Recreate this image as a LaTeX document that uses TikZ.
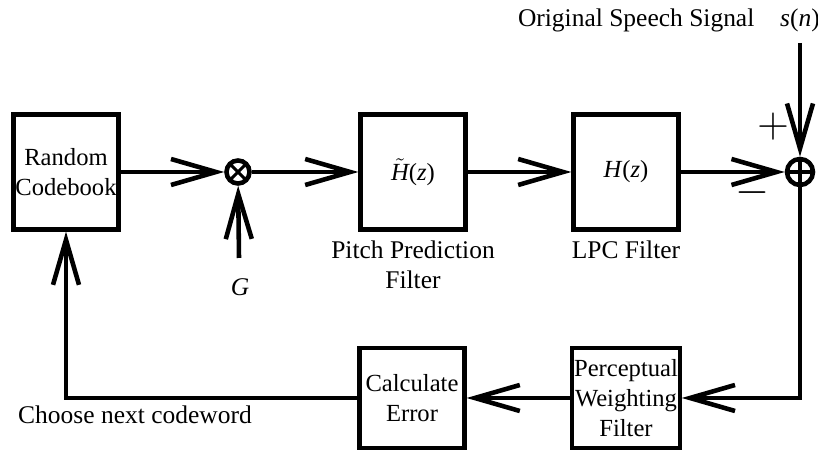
\documentclass[tikz,border=0pt]{standalone}
\usepackage{fontspec}
\setmainfont{Liberation Serif}
\usetikzlibrary{arrows.meta, positioning}

\begin{document}
\begin{tikzpicture}[
		>={Straight Barb[length=0.9cm, width=0.52cm]},
		line width=2.6pt,
		box/.style={draw, line width=2.4pt, minimum width=2.1cm, minimum height=2.3cm,
			align=center, inner sep=1pt, font=\fontsize{14}{17}\selectfont},
		lbl/.style={align=center, font=\fontsize{14.5}{17}\selectfont},
		sgn/.style={font=\fontsize{24}{24}\selectfont, inner sep=0pt},
		mult/.style={circle, draw, minimum size=0.46cm, inner sep=0pt,
			path picture={\draw[line width=1.8pt]
				(path picture bounding box.north west) -- (path picture bounding box.south east)
				(path picture bounding box.north east) -- (path picture bounding box.south west);}},
		summ/.style={circle, draw, minimum size=0.52cm, inner sep=0pt,
			path picture={\draw[line width=1.8pt]
				(path picture bounding box.north) -- (path picture bounding box.south)
				(path picture bounding box.west) -- (path picture bounding box.east);}}
	]
	\useasboundingbox (0,0) rectangle (16.36,9.16);
	
	% Top row
	\node[box] (cb) at (1.32,5.72) {Random\\Codebook};
	\node[mult] (mu) at (4.76,5.72) {};
	\node[box] (pp) at (8.26,5.72) {$\tilde{\textit{H}}$(\textit{z})};
	\node[box] (lpc) at (12.52,5.72) {\textit{H}(\textit{z})};
	\node[summ] (sum) at (16.0,5.72) {};
	
	\coordinate (gin) at (4.78,4.0);
	\coordinate (sin) at (16.0,8.3);
	
	\node[lbl] (gl) at (4.8,3.42) {\textit{G}};
	\node[lbl] (ppl) at (8.26,3.86) {Pitch Prediction\\Filter};
	\node[lbl] (lpcl) at (12.52,4.16) {LPC Filter};
	\node[lbl, anchor=east] (osl) at (15.25,8.76) {Original Speech Signal};
	\node[lbl] (snl) at (16.0,8.76) {\textit{s}(\textit{n})};
	\node[sgn] (plus) at (15.46,6.62) {$+$};
	\node[sgn] (minus) at (15.05,5.3) {$-$};
	
	% Bottom row
	\node[box, minimum height=2.0cm] (pw) at (12.52,1.2) {Perceptual\\Weighting\\Filter};
	\node[box, minimum height=2.0cm] (ce) at (8.24,1.2) {Calculate\\Error};
	\node[lbl] (cnl) at (2.7,0.86) {Choose next codeword};
	
	\foreach \a/\b in {cb/mu, mu/pp, pp/lpc, lpc/sum, gin/mu, sin/sum, pw/ce}
	\draw[->] (\a) -- (\b);
	\draw[->] (sum) |- (pw);
	\draw[->] (ce) -| (cb);
\end{tikzpicture}
\end{document}
